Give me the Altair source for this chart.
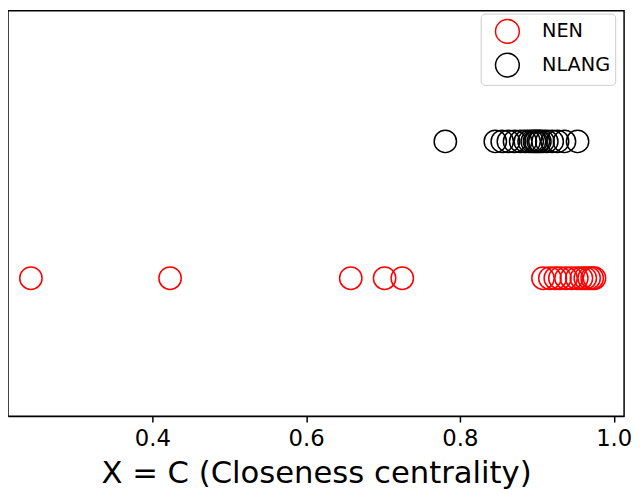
import altair as alt
import pandas as pd

nen_x = [0.242, 0.423, 0.658, 0.702, 0.725,
         0.908, 0.917, 0.924, 0.930, 0.938, 0.945, 0.952, 0.958, 0.963, 0.968, 0.972, 0.975]
nlang_x = [0.781, 0.846, 0.855, 0.863, 0.871, 0.879, 0.885, 0.890, 0.894, 0.897, 0.899,
           0.902, 0.904, 0.908, 0.913, 0.920, 0.927, 0.936, 0.953]
series = ["NEN", "NLANG"]
series_level = [1, 2]
colors = ["red", "black"]
x_ticks = [0.4, 0.6, 0.8, 1.0]

rows = []
for name, lvl, vals in zip(series, series_level, [nen_x, nlang_x]):
    for v in vals:
        rows.append({"x": v, "y": lvl, "series": name})
df = pd.DataFrame(rows)

chart = alt.Chart(df).mark_point(
    shape="circle", filled=False, size=510, strokeWidth=1.5, opacity=1
).encode(
    x=alt.X("x:Q", scale=alt.Scale(domain=[0.2122, 1.0135], nice=False, zero=False),
            axis=alt.Axis(title="X = C (Closeness centrality)", values=x_ticks, format=".1f",
                          grid=False, tickSize=6, tickColor="black", domainColor="black",
                          labelFontSize=23, titleFontSize=31, labelFont="DejaVu Sans",
                          titleFont="DejaVu Sans", titleFontWeight="normal",
                          labelColor="black", titleColor="black", labelPadding=6,
                          titlePadding=8, domainWidth=1.5, tickWidth=1.5)),
    y=alt.Y("y:Q", scale=alt.Scale(domain=[-0.008, 2.956], nice=False, zero=False), axis=None),
    color=alt.Color("series:N", scale=alt.Scale(domain=series, range=colors),
                    legend=alt.Legend(title=None, orient="none", legendX=478, legendY=3,
                                      labelFontSize=19.5, labelFont="DejaVu Sans",
                                      labelColor="black", symbolSize=576,
                                      symbolStrokeWidth=1.5, symbolType="circle",
                                      symbolFillColor="transparent",
                                      fillColor="white", strokeColor="#cccccc",
                                      cornerRadius=4, padding=5, rowPadding=4,
                                      symbolOffset=9, labelOffset=22)),
).properties(width=623, height=410, padding=0).configure_view(
    stroke="black", strokeWidth=1.5
)

chart.save("out.html", embed_options={"renderer": "svg", "actions": False})
